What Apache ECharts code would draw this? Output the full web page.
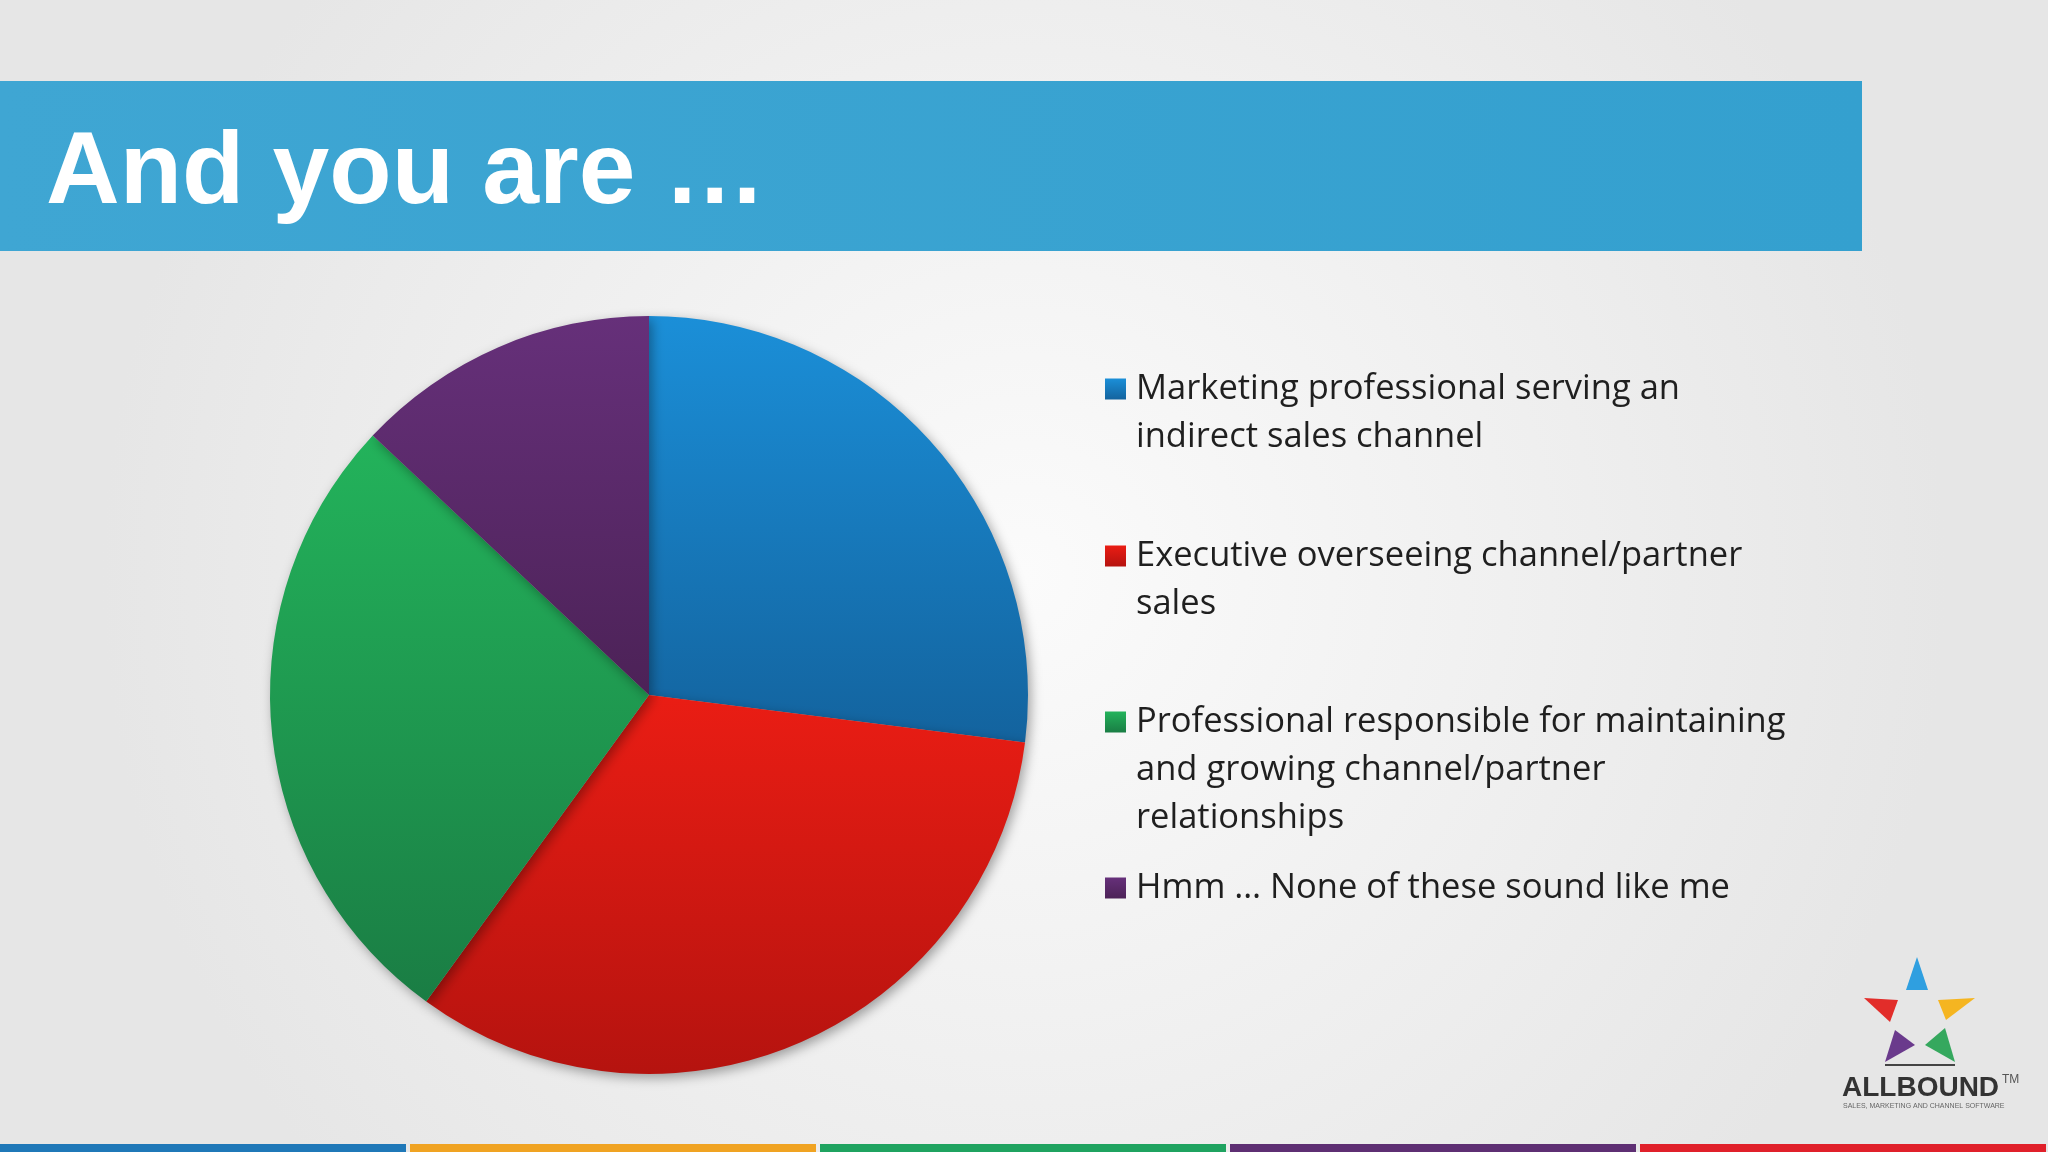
<!DOCTYPE html>
<html><head><meta charset="utf-8">
<script src="https://cdn.jsdelivr.net/npm/echarts@6/dist/echarts.min.js"></script>
<style>html,body{margin:0;padding:0;}#c{width:2048px;height:1152px;}</style>
</head><body><div id="c"></div>
<script>
// Datos de la encuesta
const categories = [
  "Marketing professional serving an\nindirect sales channel",
  "Executive overseeing channel/partner\nsales",
  "Professional responsible for maintaining\nand growing channel/partner\nrelationships",
  "Hmm … None of these sound like me"
];
const shares = [27, 33, 27, 13];
const colorsTop = ["#1b8fd8", "#ea1d14", "#23b35b", "#66307a"];
const colorsBottom = ["#13639e", "#b5130f", "#1a7d44", "#4c2257"];
const stripColors = ["#1f78b8", "#f0a322", "#1fa360", "#5e2f73", "#e0202a"];

const chart = echarts.init(document.getElementById("c"));
const lh = 48;
const firstCenters = [384, 551, 717, 883];

// Una leyenda para el icono (alineado a la primera línea) y otra para el texto
const legends = [];
categories.forEach((name, i) => {
  legends.push({
    data: [name],
    left: 1100,
    top: firstCenters[i] - 10.5,
    icon: "rect",
    itemWidth: 21,
    itemHeight: 21,
    selectedMode: false,
    formatter: () => "",
    textStyle: { fontSize: 1 }
  });
  legends.push({
    data: [name],
    left: 1126,
    top: firstCenters[i] - lh / 2,
    icon: "none",
    itemWidth: 0,
    itemHeight: 0,
    selectedMode: false,
    textStyle: {
      fontFamily: "Open Sans",
      fontSize: 34.5,
      color: "#1f1f1f",
      lineHeight: lh
    }
  });
});

const strips = stripColors.map((c, i) => ({
  type: "rect",
  shape: { x: i * 410, y: 1144, width: 406, height: 8 },
  style: { fill: c }
}));

chart.setOption({
  backgroundColor: {
    type: "radial", x: 0.5, y: 0.5, r: 0.8,
    colorStops: [{ offset: 0, color: "#fbfbfb" }, { offset: 1, color: "#e6e6e6" }]
  },
  legend: legends,
  graphic: [
    { type: "rect", shape: { x: 0, y: 81, width: 1862, height: 170 },
      style: { fill: { type: "linear", x: 0, y: 0, x2: 1, y2: 0,
        colorStops: [{ offset: 0, color: "#3fa6d3" }, { offset: 1, color: "#34a0cf" }] } } },
    { type: "text", left: 46, top: 124,
      style: { text: "And you are …", fill: "#fff", font: "bold 102px 'Liberation Sans'" } },
    { type: "text", left: 1842, top: 1074,
      style: { text: "ALLBOUND", fill: "#333", font: "bold 28px 'Liberation Sans'" } },
    { type: "text", left: 2002, top: 1074,
      style: { text: "TM", fill: "#555", font: "12px 'Liberation Sans'" } },
    { type: "text", left: 1843, top: 1103,
      style: { text: "SALES, MARKETING AND CHANNEL SOFTWARE", fill: "#666", font: "7px 'Liberation Sans'" } },
    { type: "polygon", shape: { points: [[1917, 957], [1906, 990], [1928, 990]] }, style: { fill: "#2f9fe0" } },
    { type: "polygon", shape: { points: [[1864, 998], [1898, 1000], [1890, 1022]] }, style: { fill: "#e22d2a" } },
    { type: "polygon", shape: { points: [[1975, 998], [1938, 1000], [1946, 1020]] }, style: { fill: "#f5b521" } },
    { type: "polygon", shape: { points: [[1885, 1062], [1895, 1030], [1915, 1045]] }, style: { fill: "#6a3a8c" } },
    { type: "polygon", shape: { points: [[1955, 1062], [1945, 1028], [1925, 1045]] }, style: { fill: "#35a85e" } },
    { type: "rect", shape: { x: 1885, y: 1064, width: 70, height: 2 }, style: { fill: "#444" } }
  ].concat(strips),
  series: [{
    type: "pie",
    center: [649, 695],
    radius: 379,
    startAngle: 90,
    clockwise: true,
    silent: true,
    label: { show: false },
    labelLine: { show: false },
    itemStyle: { shadowBlur: 12, shadowColor: "rgba(0,0,0,0.35)", shadowOffsetX: 3, shadowOffsetY: 4 },
    data: shares.map((v, i) => ({
      value: v,
      name: categories[i],
      itemStyle: {
        color: { type: "linear", x: 0, y: 0, x2: 0, y2: 1,
          colorStops: [{ offset: 0, color: colorsTop[i] }, { offset: 1, color: colorsBottom[i] }] }
      }
    }))
  }]
});
</script>
</body></html>
